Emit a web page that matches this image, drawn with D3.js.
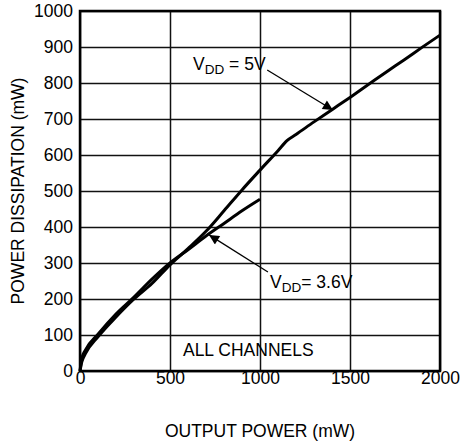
<!DOCTYPE html>
<html>
<head>
<meta charset="utf-8">
<script src="https://cdn.jsdelivr.net/npm/d3@7"></script>
<style>
  html, body { margin: 0; padding: 0; background: #fff; }
  svg { display: block; }
  text { font-family: "Liberation Sans", Arial, Helvetica, sans-serif; fill: #000; }
</style>
</head>
<body>
<svg id="chart" width="462" height="444"></svg>
<script>
// ---- data ----
const xTicks = [0, 500, 1000, 1500, 2000];
const yTicks = [0, 100, 200, 300, 400, 500, 600, 700, 800, 900, 1000];

const out36 = [0, 10, 30, 100, 200, 300, 400, 500, 600, 700, 800, 900, 1000];
const pd36  = [0, 35, 58, 102, 158, 205, 255, 300, 337, 375, 410, 445, 477];

const out5 = [0, 10, 30, 100, 200, 300, 400, 500, 600, 700, 800, 900, 1000, 1100, 1150, 1200, 1300, 1400, 1500, 1600, 1700, 1800, 1900, 2000];
const pd5  = [0, 25, 48, 95, 150, 200, 243, 295, 340, 388, 445, 503, 558, 612, 640, 657, 692, 726, 760, 795, 830, 864, 899, 933];

const xLabel = "OUTPUT POWER (mW)";
const yLabel = "POWER DISSIPATION (mW)";

// ---- layout ----
const svg = d3.select("#chart");
const m = { left: 80, top: 11, w: 360, h: 360 };
const x = d3.scaleLinear().domain([0, 2000]).range([m.left, m.left + m.w]);
const y = d3.scaleLinear().domain([0, 1000]).range([m.top + m.h, m.top]);
const FS = 17.5;

// gridlines
svg.append("g")
  .attr("transform", `translate(0,${m.top + m.h})`)
  .call(d3.axisBottom(x).tickValues(xTicks).tickSize(-m.h).tickFormat(""))
  .call(g => g.select(".domain").remove())
  .call(g => g.selectAll("line").attr("stroke", "#111").attr("stroke-width", 1.5));
svg.append("g")
  .attr("transform", `translate(${m.left},0)`)
  .call(d3.axisLeft(y).tickValues(yTicks).tickSize(-m.w).tickFormat(""))
  .call(g => g.select(".domain").remove())
  .call(g => g.selectAll("line").attr("stroke", "#111").attr("stroke-width", 1.5));

// tick labels
svg.append("g")
  .attr("transform", `translate(0,${m.top + m.h})`)
  .call(d3.axisBottom(x).tickValues(xTicks).tickSize(0).tickPadding(1).tickFormat(d3.format("d")))
  .call(g => g.select(".domain").remove())
  .call(g => g.selectAll("text").attr("font-size", FS).attr("font-family", null).attr("fill", "#000"));
svg.append("g")
  .attr("transform", `translate(${m.left},0)`)
  .call(d3.axisLeft(y).tickValues(yTicks).tickSize(0).tickPadding(7).tickFormat(d3.format("d")))
  .call(g => g.select(".domain").remove())
  .call(g => g.selectAll("text").attr("font-size", FS).attr("font-family", null).attr("fill", "#000").attr("dy", "0.3em"));

// frame
svg.append("rect")
  .attr("x", m.left).attr("y", m.top).attr("width", m.w).attr("height", m.h)
  .attr("fill", "none").attr("stroke", "#000").attr("stroke-width", 2.5);

// curves
const line = d3.line().x(d => x(d[0])).y(d => y(d[1])).curve(d3.curveMonotoneX);
svg.append("path")
  .datum(out36.map((v, i) => [v, pd36[i]]))
  .attr("d", line).attr("fill", "none").attr("stroke", "#000").attr("stroke-width", 3);
svg.append("path")
  .datum(out5.map((v, i) => [v, pd5[i]]))
  .attr("d", line).attr("fill", "none").attr("stroke", "#000").attr("stroke-width", 3);

// arrow marker
svg.append("defs").append("marker")
  .attr("id", "arr").attr("viewBox", "0 0 10 10").attr("refX", 10).attr("refY", 5)
  .attr("markerWidth", 14).attr("markerHeight", 10).attr("markerUnits", "userSpaceOnUse")
  .attr("orient", "auto")
  .append("path").attr("d", "M0,0 L10,5 L0,10 Z").attr("fill", "#000");

function annot(tx, ty, hx, hy, lx, ly, rest) {
  svg.append("line")
    .attr("x1", x(tx)).attr("y1", y(ty)).attr("x2", x(hx)).attr("y2", y(hy))
    .attr("stroke", "#000").attr("stroke-width", 1.3).attr("marker-end", "url(#arr)");
  const t = svg.append("text").attr("x", x(lx)).attr("y", y(ly)).attr("font-size", FS);
  t.append("tspan").text("V");
  t.append("tspan").attr("font-size", 13.5).attr("dy", 4).text("DD");
  t.append("tspan").attr("dy", -4).text(rest);
}
annot(1040, 836, 1405, 725, 628, 836, " = 5V");
annot(1044, 275, 717, 378, 1056, 231, "= 3.6V");

svg.append("text").attr("x", x(572)).attr("y", y(42)).attr("font-size", FS).text("ALL CHANNELS");

// axis titles
svg.append("text")
  .attr("x", m.left + m.w / 2).attr("y", 437)
  .attr("text-anchor", "middle").attr("font-size", FS).text(xLabel);
svg.append("text")
  .attr("transform", `translate(24,${m.top + m.h / 2}) rotate(-90)`)
  .attr("text-anchor", "middle").attr("font-size", FS).text(yLabel);
</script>
</body>
</html>
